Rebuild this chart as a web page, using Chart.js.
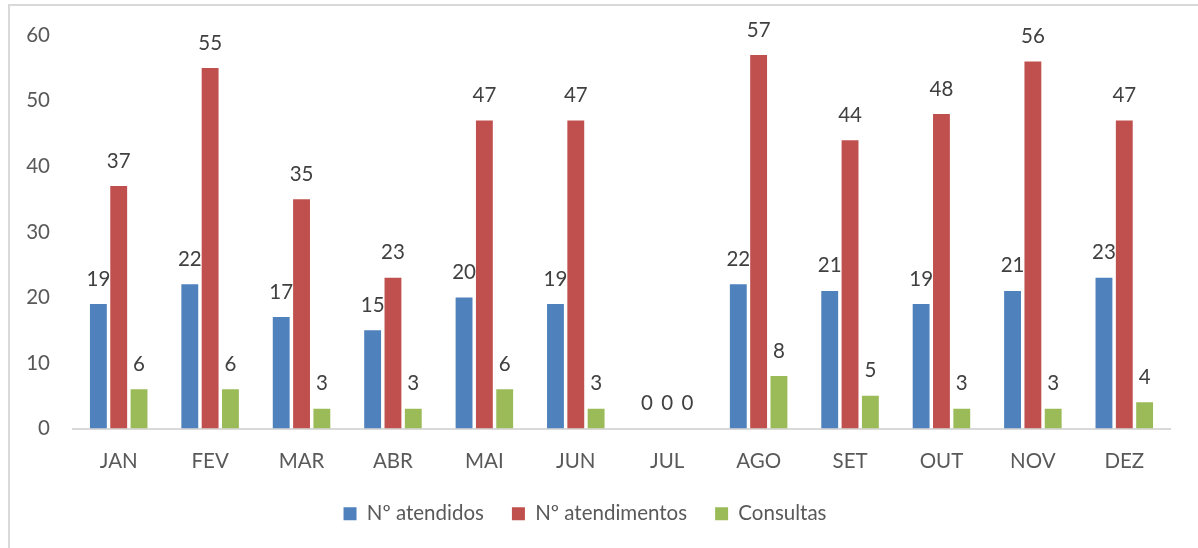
<!DOCTYPE html>
<html>
<head>
<meta charset="utf-8">
<script src="https://cdn.jsdelivr.net/npm/chart.js@4.4.1/dist/chart.umd.min.js"></script>
<style>
  body { margin: 0; background: #fff; }
  #wrap { position: relative; width: 1198px; height: 548px; overflow: hidden; }
  #frame { position: absolute; left: 8px; top: 4px; width: 1240px; height: 600px; border: 2px solid #d9d9d9; pointer-events: none; }
  canvas { position: absolute; left: 0; top: 0; }
</style>
</head>
<body>
<div id="wrap">
  <canvas id="grafico" width="1198" height="548"></canvas>
  <div id="frame"></div>
</div>
<script>
// meses e valores
const meses = ['JAN', 'FEV', 'MAR', 'ABR', 'MAI', 'JUN', 'JUL', 'AGO', 'SET', 'OUT', 'NOV', 'DEZ'];
const atendidos = [19, 22, 17, 15, 20, 19, 0, 22, 21, 19, 21, 23];
const atendimentos = [37, 55, 35, 23, 47, 47, 0, 57, 44, 48, 56, 47];
const consultas = [6, 6, 3, 3, 6, 3, 0, 8, 5, 3, 3, 4];

const fonte = 'Lato, "Open Sans", sans-serif';
const tam = 20.5;
const cinza = '#595959';

// rótulos de valor acima das barras
const rotulos = {
  id: 'rotulos',
  afterDatasetsDraw(chart) {
    const ctx = chart.ctx;
    ctx.save();
    ctx.font = tam + 'px ' + fonte;
    ctx.fillStyle = '#404040';
    ctx.textAlign = 'center';
    ctx.textBaseline = 'middle';
    chart.data.datasets.forEach((ds, i) => {
      chart.getDatasetMeta(i).data.forEach((bar, j) => {
        ctx.fillText(String(ds.data[j]), bar.x, bar.y - 25);
      });
    });
    ctx.restore();
  }
};

new Chart(document.getElementById('grafico'), {
  type: 'bar',
  data: {
    labels: meses,
    datasets: [
      { label: 'Nº atendidos', data: atendidos, backgroundColor: '#4f81bd' },
      { label: 'Nº atendimentos', data: atendimentos, backgroundColor: '#c0504d' },
      { label: 'Consultas', data: consultas, backgroundColor: '#9bbb59' }
    ]
  },
  options: {
    responsive: false,
    animation: false,
    datasets: { bar: { categoryPercentage: 0.667, barPercentage: 0.83 } },
    layout: { padding: { top: 33, right: 28, bottom: 14, left: 0 } },
    scales: {
      x: {
        grid: { display: false, drawTicks: false },
        border: { display: true, color: '#d9d9d9', width: 2 },
        ticks: { color: cinza, font: { family: fonte, size: tam }, padding: 21 },
        afterFit: s => { s.height = 47; }
      },
      y: {
        min: 0,
        max: 60,
        grid: { display: false, drawTicks: false },
        border: { display: false },
        ticks: { stepSize: 10, color: cinza, font: { family: fonte, size: tam }, padding: 23 },
        afterFit: s => { s.width = 73; }
      }
    },
    plugins: {
      legend: {
        position: 'bottom',
        labels: {
          boxWidth: 13,
          boxHeight: 13,
          padding: 28,
          color: cinza,
          font: { family: fonte, size: tam }
        }
      },
      tooltip: { enabled: false }
    }
  },
  plugins: [rotulos]
});
</script>
</body>
</html>
